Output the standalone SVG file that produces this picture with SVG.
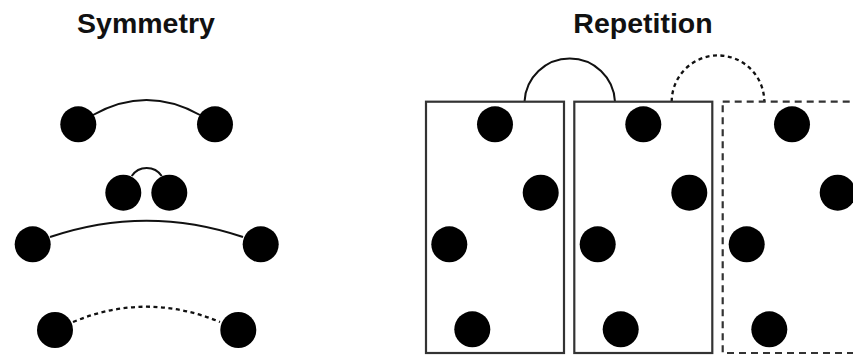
<svg xmlns="http://www.w3.org/2000/svg" width="853" height="356" viewBox="0 0 853 356">
<style>
.title{font-family:"Liberation Sans",Arial,sans-serif;font-weight:bold;font-size:28.5px;fill:#111;text-anchor:middle}
.dot{fill:#000}
.link{fill:none;stroke:#111;stroke-width:2}
.dotted{stroke-dasharray:4,3.5;stroke-width:2.3}
.box{fill:none;stroke:#333;stroke-width:2.2}
.dashed{stroke-dasharray:7,5}
</style>
<rect width="853" height="356" fill="#fff"/>
<text class="title" x="146" y="33">Symmetry</text>
<text class="title" x="643" y="33">Repetition</text>
<g id="connectors">
<path class="link" d="M93,115 Q146.5,85 200,115"/>
<path class="link" d="M131.7,176 A18,18 0 0 1 161.7,176"/>
<path class="link" d="M50,237 Q146.5,204.4 243,237"/>
<path class="link dotted" d="M73,322 Q146.5,291.4 220,322"/>
<path class="link" d="M524.5,101.7 A45.3,45.3 0 0 1 615,101.7"/>
<path class="link dotted" d="M671.7,101.7 A46.3,46.3 0 0 1 764.3,101.7"/>
</g>
<g id="sym1"><circle class="dot" cx="78.3" cy="124.3" r="18"/><circle class="dot" cx="215" cy="124.3" r="18"/></g>
<g id="sym2"><circle class="dot" cx="123.3" cy="192.7" r="18"/><circle class="dot" cx="169.3" cy="192.7" r="18"/></g>
<g id="sym3"><circle class="dot" cx="32.7" cy="244.3" r="18"/><circle class="dot" cx="260.7" cy="244.3" r="18"/></g>
<g id="sym4"><circle class="dot" cx="55" cy="330" r="18"/><circle class="dot" cx="238.3" cy="330" r="18"/></g>
<g id="rep1">
<rect class="box" x="426" y="101.7" width="138" height="251.3"/>
<circle class="dot" cx="495" cy="124.3" r="18"/>
<circle class="dot" cx="540.7" cy="192.7" r="18"/>
<circle class="dot" cx="449.3" cy="244.3" r="18"/>
<circle class="dot" cx="472.3" cy="329.3" r="18"/>
</g>
<g id="rep2">
<rect class="box" x="574.3" y="101.7" width="138" height="251.3"/>
<circle class="dot" cx="643.3" cy="124.3" r="18"/>
<circle class="dot" cx="689.3" cy="192.7" r="18"/>
<circle class="dot" cx="597.7" cy="244.3" r="18"/>
<circle class="dot" cx="620.7" cy="329.3" r="18"/>
</g>
<g id="rep3">
<rect class="box dashed" x="722.7" y="101.7" width="138" height="251.3"/>
<circle class="dot" cx="792" cy="124.3" r="18"/>
<circle class="dot" cx="837.7" cy="192.7" r="18"/>
<circle class="dot" cx="746.7" cy="244.3" r="18"/>
<circle class="dot" cx="769.3" cy="329.3" r="18"/>
</g>
</svg>
